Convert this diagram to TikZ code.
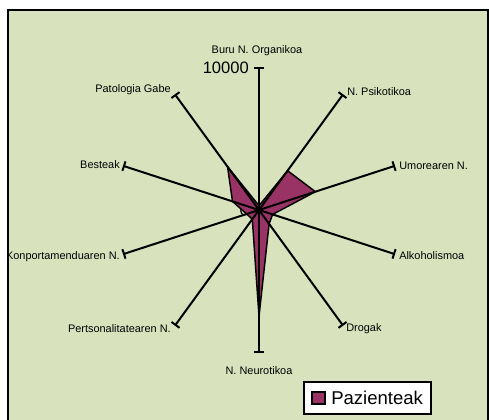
\documentclass[tikz,border=0pt]{standalone}
\usepackage{fontspec}
\setmainfont{Liberation Sans}
\usepackage{xcolor}
\usepackage{tikz}
\usetikzlibrary{arrows.meta}
\definecolor{plotbg}{RGB}{216,227,190}
\definecolor{plum}{RGB}{153,51,102}

\begin{document}
\begin{tikzpicture}[x=0.75pt,y=0.75pt,yscale=-1,xscale=1,
  axis/.style={line width=1.5pt,-{Bar[width=7.5pt]}},
  lbl/.style={inner sep=0pt,font=\fontsize{8.2}{10}\selectfont},
  big/.style={inner sep=0pt,font=\fontsize{12.4}{14}\selectfont}]
\useasboundingbox (0,0) rectangle (489,420);
\fill [white] (0,0) rectangle (489,420);
\fill [plotbg] (8,10) rectangle (488,421);
\begin{scope}
\clip (8,10) rectangle (488,421);
\coordinate (c) at (259,210);
\coordinate (buruend) at (259,67);
\coordinate (psikend) at (343.1,94.3);
\coordinate (umorend) at (395,165.8);
\coordinate (alkoend) at (395,254.2);
\coordinate (drogend) at (343.1,325.7);
\coordinate (neurend) at (259,353);
\coordinate (pertend) at (174.9,325.7);
\coordinate (konpend) at (123,254.2);
\coordinate (bestend) at (123,165.8);
\coordinate (patoend) at (174.9,94.3);
% scale labels
\draw (249,210) node [big,anchor=east] (zero) {0};
\draw (249,67.5) node [big,anchor=east] (maxv) {10000};
% data
\draw [fill=plum,line width=1.1pt,line join=round] (259,205.7) -- (287.6,170.7) -- (315.4,191.7) -- (272.6,214.4) -- (269.1,223.9) -- (259,316.5) -- (252.3,219.2) -- (246.7,214) -- (232.5,201.4) -- (227.5,166.6) -- cycle;
% axes
\draw [axis] (c) -- (buruend);
\draw [axis] (c) -- (psikend);
\draw [axis] (c) -- (umorend);
\draw [axis] (c) -- (alkoend);
\draw [axis] (c) -- (drogend);
\draw [axis] (c) -- (neurend);
\draw [axis] (c) -- (pertend);
\draw [axis] (c) -- (konpend);
\draw [axis] (c) -- (bestend);
\draw [axis] (c) -- (patoend);
% category labels
\draw (257,51) node [lbl] (buru) {Buru N. Organikoa};
\draw (347,92) node [lbl,anchor=west] (psik) {N. Psikotikoa};
\draw (399,166) node [lbl,anchor=west] (umor) {Umorearen N.};
\draw (399,256) node [lbl,anchor=west] (alko) {Alkoholismoa};
\draw (346,329) node [lbl,anchor=west] (drog) {Drogak};
\draw (259,371) node [lbl] (neur) {N. Neurotikoa};
\draw (171,329) node [lbl,anchor=east] (pert) {Pertsonalitatearen N.};
\draw (120,257) node [lbl,anchor=east] (konp) {Konportamenduaren N.};
\draw (120,165) node [lbl,anchor=east] (best) {Besteak};
\draw (171,90) node [lbl,anchor=east] (pato) {Patologia Gabe};
% legend
\draw [fill=white,line width=1.1pt] (304,382) rectangle (431,414);
\draw [fill=plum,line width=1.1pt] (312,392) rectangle (325,404);
\draw (331,398) node [anchor=west,inner sep=0pt,font=\fontsize{13.9}{16}\selectfont] (leg) {Pazienteak};
\end{scope}
\draw [line width=1.5pt] (8,421) -- (8,10) -- (488,10) -- (488,421);
\end{tikzpicture}
\end{document}
